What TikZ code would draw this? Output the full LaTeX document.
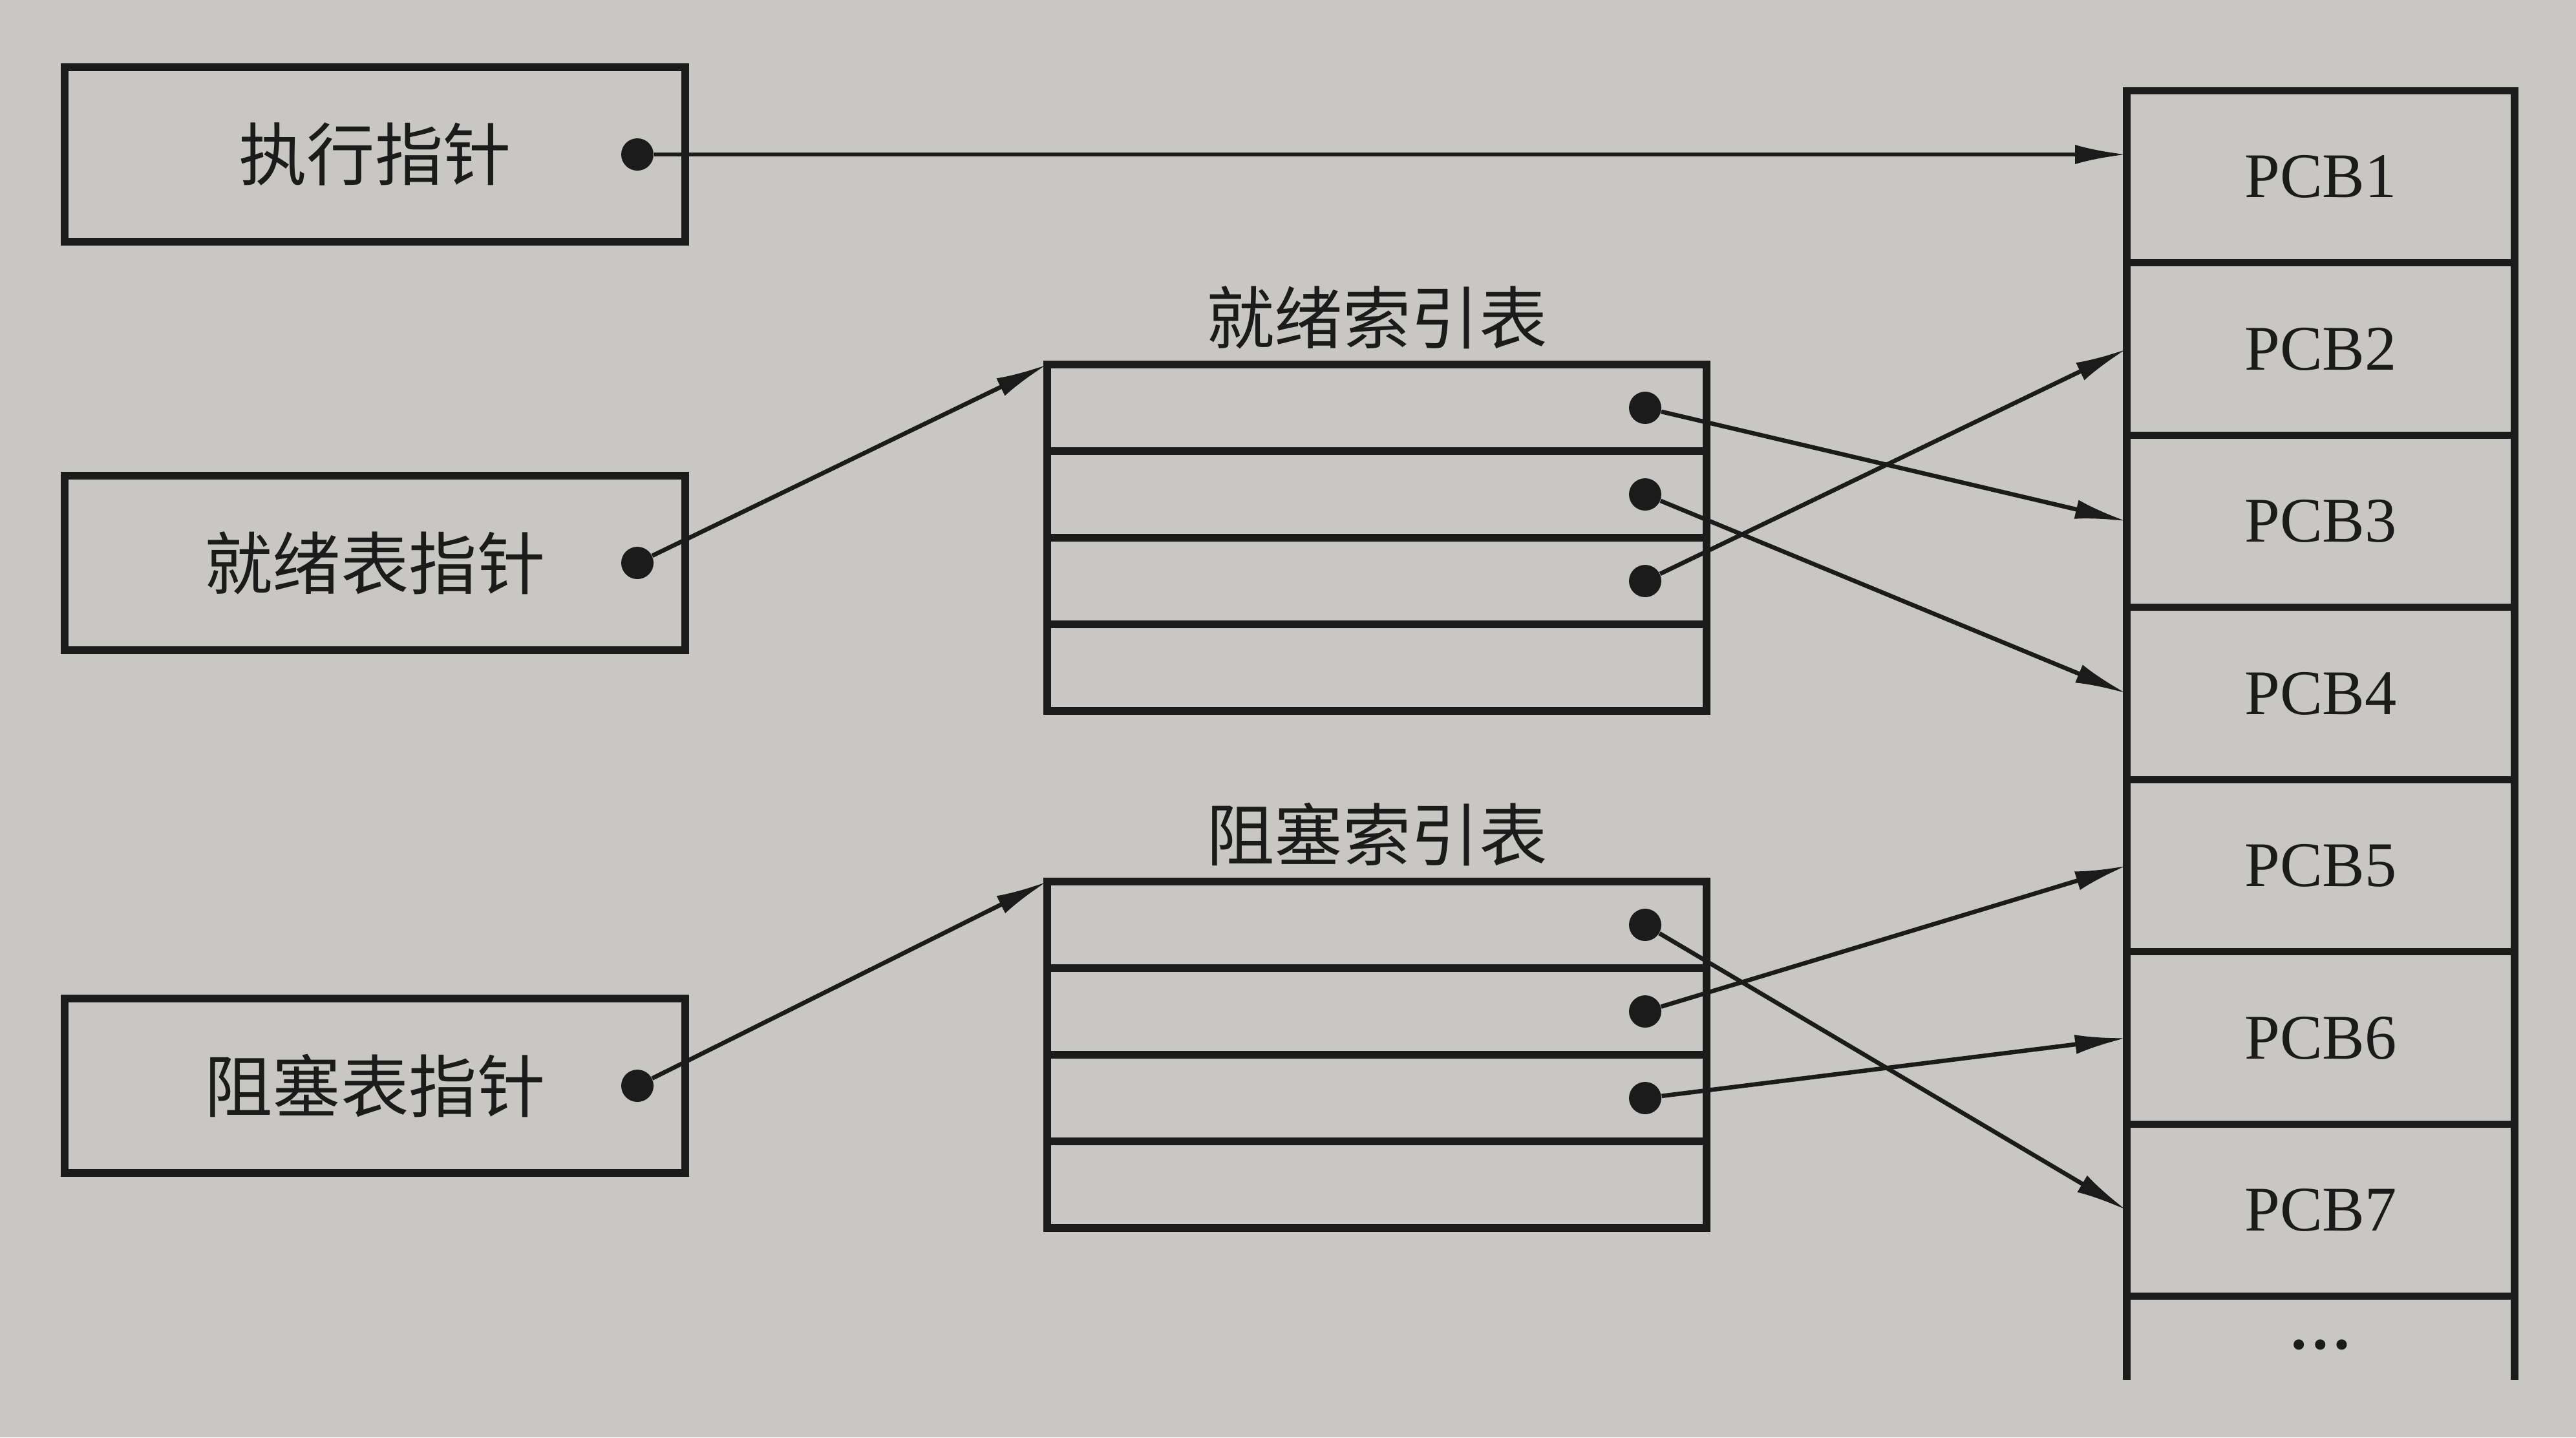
\documentclass[tikz,border=0pt]{standalone}
\usepackage{fontspec}
\setmainfont{Liberation Serif}
\newfontfamily\cjk{Noto Sans CJK SC}
\usetikzlibrary{arrows.meta, positioning, calc}
\definecolor{paper}{RGB}{201,199,195}
\definecolor{ink}{RGB}{28,27,27}

\begin{document}
\begin{tikzpicture}[
      ptrbox/.style={draw=ink, line width=3.2pt, outer sep=0pt, minimum width=9.6cm, minimum height=2.7cm, text=ink, font=\cjk\fontsize{30}{36}\selectfont},
      idxtable/.style={draw=ink, line width=3.2pt, outer sep=0pt, minimum width=10.2cm, minimum height=5.36cm},
      pcbcell/.style={draw=ink, line width=3.2pt, outer sep=0pt, minimum width=6cm, minimum height=2.665cm, text=ink, font=\fontsize{28}{34}\selectfont},
      tabtitle/.style={text=ink, font=\cjk\fontsize{30}{36}\selectfont},
      arrow/.style={-{Latex[length=0.8cm, width=0.3cm]}, draw=ink, line width=1.9pt},
      data_dot/.style={circle, fill=ink, inner sep=0pt, minimum size=0.5cm}
    ]
      % paper background, fixes the margins too
      \fill[paper] (0,0) rectangle (39.85,-22.24);
      \useasboundingbox (0,0) rectangle (39.85,-22.24);

      % PCB column on the right
      \foreach \i in {1,...,7} {
        \node[pcbcell] (pcb\i) at (35.9,{-2.735-(\i-1)*2.665}) {PCB\i};
      }
      % last cell stays open at the bottom
      \draw[ink, line width=3.2pt] (pcb7.south west) -- ++(0,-1.29);
      \draw[ink, line width=3.2pt] (pcb7.south east) -- ++(0,-1.29);
      \node[text=ink, font=\fontsize{28}{34}\selectfont\bfseries] (pcb_more) at ([yshift=-0.75cm]pcb7.south) {\ldots};

      % the three pointer boxes
      \node[ptrbox] (exec_ptr) at (5.8,-2.39) {执行指针};
      \node[ptrbox] (ready_ptr) at (5.8,-8.71) {就绪表指针};
      \node[ptrbox] (block_ptr) at (5.8,-16.80) {阻塞表指针};

      \node[data_dot] (exec_dot) at ([xshift=-0.74cm]exec_ptr.east) {};
      \node[data_dot] (ready_dot) at ([xshift=-0.74cm]ready_ptr.east) {};
      \node[data_dot] (block_dot) at ([xshift=-0.74cm]block_ptr.east) {};

      % index tables in the middle
      \node[idxtable] (ready_tab) at (21.3,-8.32) {};
      \node[tabtitle, above=0.12cm of ready_tab] (ready_title) {就绪索引表};

      \node[idxtable] (block_tab) at (21.3,-16.32) {};
      \node[tabtitle, above=0.12cm of block_tab] (block_title) {阻塞索引表};

      % row separators and row pointers
      \foreach \k in {1,2,3} {
        \draw[ink, line width=3.2pt] ([yshift=-\k*1.34cm]ready_tab.north west) -- ([yshift=-\k*1.34cm]ready_tab.north east);
        \draw[ink, line width=3.2pt] ([yshift=-\k*1.34cm]block_tab.north west) -- ([yshift=-\k*1.34cm]block_tab.north east);
        \node[data_dot] (rdot\k) at ([xshift=-0.95cm, yshift={-(\k-0.5)*1.34cm}]ready_tab.north east) {};
        \node[data_dot] (bdot\k) at ([xshift=-0.95cm, yshift={-(\k-0.5)*1.34cm}]block_tab.north east) {};
      }

      % Arrows
      \draw[arrow] (exec_dot) -- (exec_dot -| pcb1.west);
      \draw[arrow] (ready_dot) -- (ready_tab.north west);
      \draw[arrow] (block_dot) -- (block_tab.north west);

      \draw[arrow] (rdot1) -- (pcb3.west);
      \draw[arrow] (rdot2) -- (pcb4.west);
      \draw[arrow] (rdot3) -- (pcb2.west);

      \draw[arrow] (bdot1) -- (pcb7.west);
      \draw[arrow] (bdot2) -- (pcb5.west);
      \draw[arrow] (bdot3) -- (pcb6.west);
    \end{tikzpicture}
\end{document}
